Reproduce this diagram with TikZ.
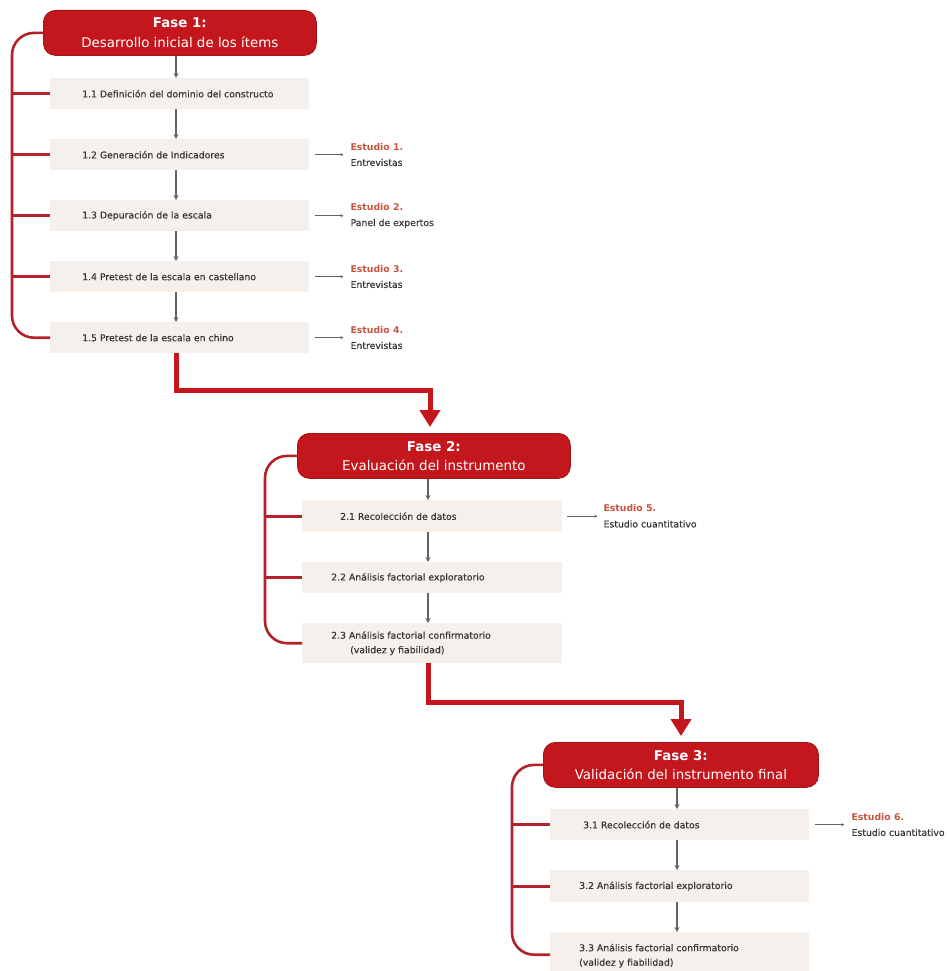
\documentclass[tikz,border=0pt]{standalone}
\usepackage{fontspec}
\setmainfont{DejaVu Sans}
\newfontfamily\labelfont[FakeBold=0.3]{DejaVu Sans}
\usetikzlibrary{arrows.meta}

\definecolor{phasered}{HTML}{C3161D}
\definecolor{phaseedge}{HTML}{A11419}
\definecolor{bracketred}{HTML}{B0232A}
\definecolor{rowfill}{HTML}{F5F0EB}
\definecolor{stepgray}{HTML}{646464}
\definecolor{textgray}{HTML}{353535}
\definecolor{studyred}{HTML}{C9523E}

\tikzset{
  phase/.style={draw=phaseedge, line width=0.8pt, fill=phasered, rounded corners=12pt,
    text=white, align=center, inner sep=0pt, minimum height=45pt,
    font=\fontsize{13.4}{19.5}\selectfont, anchor=north west},
  rowbox/.style={fill=rowfill, inner sep=0pt, anchor=north west},
  rowtext/.style={anchor=west, inner sep=0pt, align=left, text=textgray,
    font=\labelfont\fontsize{9.3}{14.5}\selectfont},
  study/.style={anchor=west, inner sep=0pt, align=left, text=textgray,
    font=\labelfont\fontsize{9.3}{15.5}\selectfont},
  bracket/.style={draw=bracketred, line width=2.6pt, rounded corners=22pt},
  steparrow/.style={draw=stepgray, line width=1.1pt, -{Stealth[length=5pt,width=5pt]}},
  sidearrow/.style={draw=stepgray, line width=0.6pt, -{Stealth[length=3pt,width=3pt]}},
  bigarrow/.style={draw=phasered, line width=5pt, miter limit=10,
    -{Triangle[length=17pt,width=20pt]}, shorten >=6pt}
}

\newcommand{\studyhead}[1]{{\fontspec{DejaVu Sans Bold}\color{studyred}#1}}

\begin{document}
\begin{tikzpicture}[x=1pt,y=-1pt]
\useasboundingbox (0,0) rectangle (946,971);

% ---------- Phase 1 ----------
\node[phase, minimum width=273pt] (p1) at (43,10)
  {\textbf{Fase 1:}\\Desarrollo inicial de los ítems};

\node[rowbox, minimum width=259pt, minimum height=31pt] (r11box) at (50,78) {};
\node[rowbox, minimum width=259pt, minimum height=31pt] (r12box) at (50,139) {};
\node[rowbox, minimum width=259pt, minimum height=31pt] (r13box) at (50,200) {};
\node[rowbox, minimum width=259pt, minimum height=31pt] (r14box) at (50,261) {};
\node[rowbox, minimum width=259pt, minimum height=31pt] (r15box) at (50,322) {};

\node[rowtext] (r11) at ([xshift=32pt]r11box.west) {1.1 Definición del dominio del constructo};
\node[rowtext] (r12) at ([xshift=32pt]r12box.west) {1.2 Generación de Indicadores};
\node[rowtext] (r13) at ([xshift=32pt]r13box.west) {1.3 Depuración de la escala};
\node[rowtext] (r14) at ([xshift=32pt]r14box.west) {1.4 Pretest de la escala en castellano};
\node[rowtext] (r15) at ([xshift=32pt]r15box.west) {1.5 Pretest de la escala en chino};

\node[study] (s1) at ([xshift=41pt]r12box.east) {\studyhead{Estudio 1.}\\Entrevistas};
\node[study] (s2) at ([xshift=41pt]r13box.east) {\studyhead{Estudio 2.}\\Panel de expertos};
\node[study] (s3) at ([xshift=41pt]r14box.east) {\studyhead{Estudio 3.}\\Entrevistas};
\node[study] (s4) at ([xshift=41pt]r15box.east) {\studyhead{Estudio 4.}\\Entrevistas};

\coordinate (b1) at (12,0);
\coordinate (c1) at (176,0);

\draw[bracket] (p1.west) -| (b1 |- r15box.west) -- (r15box.west);
\foreach \r in {r11box,r12box,r13box,r14box}
  \draw[bracket] (b1 |- \r.west) -- (\r.west);

\draw[steparrow] (p1.south -| c1) -- (r11box.north -| c1);
\draw[steparrow] (r11box.south -| c1) -- (r12box.north -| c1);
\draw[steparrow] (r12box.south -| c1) -- (r13box.north -| c1);
\draw[steparrow] (r13box.south -| c1) -- (r14box.north -| c1);
\draw[steparrow] (r14box.south -| c1) -- (r15box.north -| c1);

\draw[sidearrow] ([xshift=6pt]r12box.east) -- ([xshift=-7pt]s1.west);
\draw[sidearrow] ([xshift=6pt]r13box.east) -- ([xshift=-7pt]s2.west);
\draw[sidearrow] ([xshift=6pt]r14box.east) -- ([xshift=-7pt]s3.west);
\draw[sidearrow] ([xshift=6pt]r15box.east) -- ([xshift=-7pt]s4.west);

% ---------- Phase 2 ----------
\node[phase, minimum width=273pt] (p2) at (297,433)
  {\textbf{Fase 2:}\\Evaluación del instrumento};

\node[rowbox, minimum width=260pt, minimum height=32pt] (r21box) at (302,500) {};
\node[rowbox, minimum width=260pt, minimum height=31pt] (r22box) at (302,562) {};
\node[rowbox, minimum width=260pt, minimum height=40pt] (r23box) at (302,623) {};

\node[rowtext] (r21) at ([xshift=38pt]r21box.west) {2.1 Recolección de datos};
\node[rowtext] (r22) at ([xshift=29pt]r22box.west) {2.2 Análisis factorial exploratorio};
\node[rowtext] (r23) at ([xshift=29pt]r23box.west)
  {2.3 Análisis factorial confirmatorio\\\hspace*{19pt}(validez y fiabilidad)};

\node[study] (s5) at ([xshift=41pt]r21box.east) {\studyhead{Estudio 5.}\\Estudio cuantitativo};

\coordinate (b2) at (265,0);
\coordinate (c2) at (428,0);

\draw[bracket] (p2.west) -| (b2 |- r23box.west) -- (r23box.west);
\foreach \r in {r21box,r22box}
  \draw[bracket] (b2 |- \r.west) -- (\r.west);

\draw[steparrow] (p2.south -| c2) -- (r21box.north -| c2);
\draw[steparrow] (r21box.south -| c2) -- (r22box.north -| c2);
\draw[steparrow] (r22box.south -| c2) -- (r23box.north -| c2);

\draw[sidearrow] ([xshift=5pt]r21box.east) -- ([xshift=-6pt]s5.west);

% ---------- Phase 3 ----------
\node[phase, minimum width=275pt] (p3) at (543,742)
  {\textbf{Fase 3:}\\Validación del instrumento final};

\node[rowbox, minimum width=259pt, minimum height=31pt] (r31box) at (550,809) {};
\node[rowbox, minimum width=259pt, minimum height=32pt] (r32box) at (550,870) {};
\node[rowbox, minimum width=259pt, minimum height=45pt] (r33box) at (550,932) {};

\node[rowtext] (r31) at ([xshift=33pt]r31box.west) {3.1 Recolección de datos};
\node[rowtext] (r32) at ([xshift=29pt]r32box.west) {3.2 Análisis factorial exploratorio};
\node[rowtext] (r33) at ([xshift=29pt,yshift=-1pt]r33box.west)
  {3.3 Análisis factorial confirmatorio\\(validez y fiabilidad)};

\node[study] (s6) at ([xshift=42pt]r31box.east) {\studyhead{Estudio 6.}\\Estudio cuantitativo};

\coordinate (b3) at (512,0);
\coordinate (c3) at (677,0);

\draw[bracket] (p3.west) -| (b3 |- r33box.west) -- (r33box.west);
\foreach \r in {r31box,r32box}
  \draw[bracket] (b3 |- \r.west) -- (\r.west);

\draw[steparrow] (p3.south -| c3) -- (r31box.north -| c3);
\draw[steparrow] (r31box.south -| c3) -- (r32box.north -| c3);
\draw[steparrow] (r32box.south -| c3) -- (r33box.north -| c3);

\draw[sidearrow] ([xshift=6pt]r31box.east) -- ([xshift=-7pt]s6.west);

% ---------- transitions between phases ----------
\coordinate (j1) at (430,390);
\coordinate (j2) at (681,702);
\draw[bigarrow] (r15box.south -| c1) |- (j1) -- (p2.north -| j1);
\draw[bigarrow] (r23box.south -| c2) |- (j2) -- (p3.north -| j2);

\end{tikzpicture}
\end{document}
